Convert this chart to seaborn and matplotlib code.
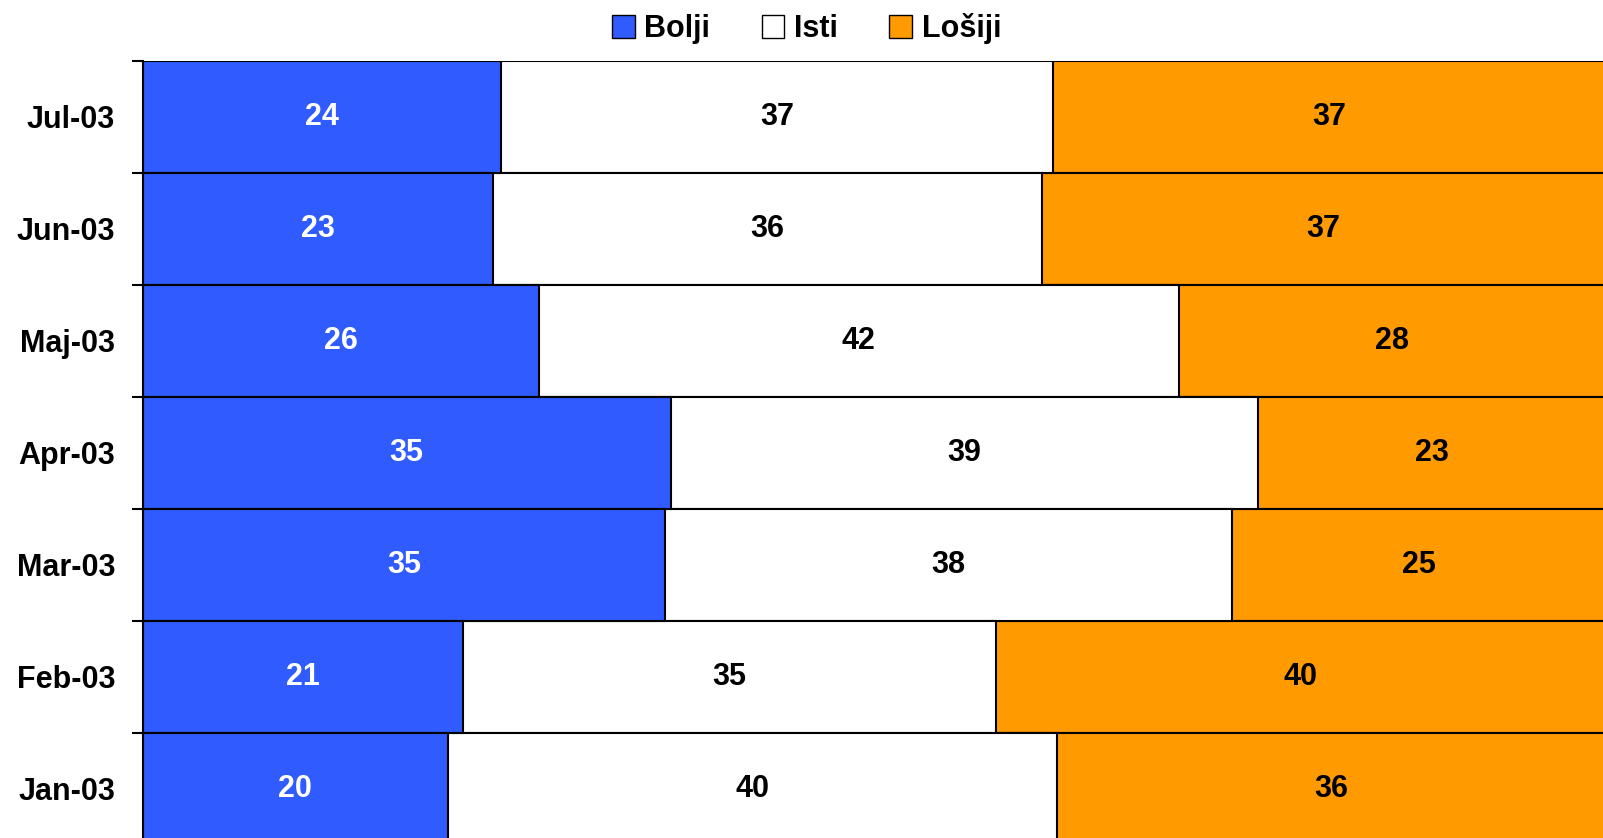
import pandas as pd
import matplotlib
matplotlib.use("Agg")
import matplotlib.pyplot as plt
import seaborn as sns
from matplotlib.patches import Patch

# podaci (ocitano sa slike)
months = ['Jul-03', 'Jun-03', 'Maj-03', 'Apr-03', 'Mar-03', 'Feb-03', 'Jan-03']
bolji = [24, 23, 26, 35, 35, 21, 20]
isti = [37, 36, 42, 39, 38, 35, 40]
losiji = [37, 37, 28, 23, 25, 40, 36]
series = ['Bolji', 'Isti', 'Lošiji']

blue = '#2F5BFF'
white = '#FFFFFF'
orange = '#FF9A00'

sns.set_style('white')
plt.rcParams['font.family'] = ['Liberation Sans', 'DejaVu Sans']
plt.rcParams['text.color'] = 'black'
plt.rcParams['ytick.color'] = 'black'

df = pd.DataFrame({'mjesec': months, 'Bolji': bolji, 'Isti': isti, 'Lošiji': losiji})
tot = df[series].sum(axis=1)
df['p_b'] = df['Bolji'] / tot * 100
df['p_bi'] = (df['Bolji'] + df['Isti']) / tot * 100
df['p_all'] = (df['Bolji'] + df['Isti'] + df['Lošiji']) / tot * 100

fig = plt.figure(figsize=(16.03, 8.38), dpi=100)
ax = fig.add_axes([143 / 1603, -6.7 / 838, 1462 / 1603, 784 / 838])

# stacked bars drawn as overlapping cumulative bars
for col, c in [('p_all', orange), ('p_bi', white), ('p_b', blue)]:
    sns.barplot(data=df, y='mjesec', x=col, orient='h', color=c, saturation=1,
                edgecolor='black', linewidth=1.5, width=1.0, ax=ax)

ax.set_xlim(0, 100)
ax.set_ylim(len(months) - 0.5, -0.5)

# value labels
for i in range(len(months)):
    b0 = 0
    for name, tc in zip(series, ['white', 'black', 'black']):
        v = df.loc[i, name]
        w = v / tot[i] * 100
        ax.text(b0 + w / 2, i, str(v), ha='center', va='center', color=tc,
                fontsize=22, fontweight='bold')
        b0 += w

ax.set_xlabel('')
ax.set_ylabel('')
ax.set_xticks([])
ax.tick_params(axis='y', which='major', length=0, pad=20, labelsize=22, labelcolor='black')
for lab in ax.get_yticklabels():
    lab.set_fontweight('bold')
ax.set_yticks([i - 0.5 for i in range(len(months) + 1)], minor=True)
ax.tick_params(axis='y', which='minor', length=8, width=1.5, color='black', direction='out', left=True)
for s in ['top', 'right', 'bottom']:
    ax.spines[s].set_visible(False)
ax.spines['left'].set_color('black')
ax.spines['left'].set_linewidth(1.5)

handles = [Patch(facecolor=c, edgecolor='black', linewidth=1) for c in [blue, white, orange]]
fig.legend(handles, series, loc='center', bbox_to_anchor=(0.503, 0.966), ncol=3,
           frameon=False, prop={'size': 22, 'weight': 'bold'},
           handlelength=0.75, handleheight=0.75, handletextpad=0.3, columnspacing=1.7)

fig.savefig('out.png', dpi=100)
